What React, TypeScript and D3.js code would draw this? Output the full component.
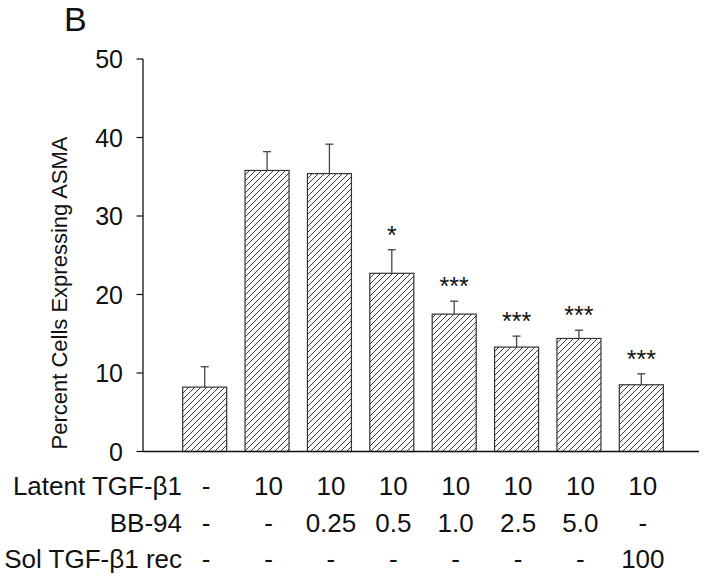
import React from 'react';
import * as d3 from 'd3';

const groups = ['g1', 'g2', 'g3', 'g4', 'g5', 'g6', 'g7', 'g8'];
const values = [8.2, 35.8, 35.4, 22.7, 17.5, 13.3, 14.4, 8.5];
const errors = [2.6, 2.4, 3.75, 3.0, 1.65, 1.4, 1.05, 1.4];
const significance = ['', '', '', '*', '***', '***', '***', '***'];
const yTicks = [0, 10, 20, 30, 40, 50];
const rowLabels = ['Latent TGF-\u03B21', 'BB-94', 'Sol TGF-\u03B21 rec'];
const latentRow = ['-', '10', '10', '10', '10', '10', '10', '10'];
const bb94Row = ['-', '-', '0.25', '0.5', '1.0', '2.5', '5.0', '-'];
const solRecRow = ['-', '-', '-', '-', '-', '-', '-', '100'];
const yLabel = 'Percent Cells Expressing ASMA';
const panelLabel = 'B';

const FONT = '"Liberation Sans", Arial, Helvetica, sans-serif';

export default function App() {
  const W = 711;
  const H = 578;
  const axisX = 143;
  const axisEnd = 699;
  const y = d3.scaleLinear().domain([0, 50]).range([451.5, 59]);
  const x = d3
    .scaleBand<string>()
    .domain(groups)
    .range([173.5, 672.5])
    .paddingInner(0.2945)
    .paddingOuter(0.147);
  const bw = x.bandwidth();
  const rows = [latentRow, bb94Row, solRecRow];
  const rowY = [495, 532, 568];

  return (
    <svg
      width={W}
      height={H}
      viewBox={`0 0 ${W} ${H}`}
      style={{ position: 'absolute', left: 0, top: 0, background: '#fff' }}
      fontFamily={FONT}
    >
      <defs>
        <pattern id="hatch" patternUnits="userSpaceOnUse" width={6} height={6}>
          <rect width={6} height={6} fill="#fff" />
          <path d="M0,6 L6,0 M-1,1 L1,-1 M5,7 L7,5" stroke="#222" strokeWidth={0.9} />
        </pattern>
      </defs>

      <text x={64} y={31} fontSize={34} fill="#111">
        {panelLabel}
      </text>

      {/* Y axis label */}
      <text
        transform={`translate(67, ${293}) rotate(-90)`}
        textAnchor="middle"
        fontSize={22}
        fill="#111"
      >
        {yLabel}
      </text>

      {/* bars */}
      {values.map((v, i) => {
        const g = groups[i];
        const x0 = x(g)!;
        const cx = x0 + bw / 2;
        const top = y(v);
        const errTop = y(v + errors[i]);
        return (
          <g key={g}>
            <rect
              x={x0}
              y={top}
              width={bw}
              height={y(0) - top}
              fill="url(#hatch)"
              stroke="#333"
              strokeWidth={1.2}
            />
            <line x1={cx} x2={cx} y1={top} y2={errTop} stroke="#444" strokeWidth={1.3} />
            <line x1={cx - 4} x2={cx + 4} y1={errTop} y2={errTop} stroke="#444" strokeWidth={1.3} />
            {significance[i] && (
              <text x={cx} y={errTop - 6} textAnchor="middle" fontSize={25} fill="#111">
                {significance[i]}
              </text>
            )}
          </g>
        );
      })}

      {/* axes */}
      <line x1={axisX} x2={axisX} y1={y(50)} y2={y(0)} stroke="#111" strokeWidth={1.3} />
      <line x1={axisX} x2={axisEnd} y1={y(0)} y2={y(0)} stroke="#111" strokeWidth={1.3} />
      {yTicks.map((t) => (
        <g key={t}>
          <line x1={axisX - 6.5} x2={axisX} y1={y(t)} y2={y(t)} stroke="#111" strokeWidth={1.2} />
          <text x={123} y={y(t)} dy="0.36em" textAnchor="end" fontSize={25} fill="#111">
            {t}
          </text>
        </g>
      ))}

      {/* condition table */}
      {rows.map((row, r) => (
        <g key={r}>
          <text x={182} y={rowY[r]} textAnchor="end" fontSize={26} fill="#111">
            {rowLabels[r]}
          </text>
          {row.map((val, i) => (
            <text
              key={i}
              x={x(groups[i])! + bw / 2 + 1.5}
              y={rowY[r]}
              textAnchor="middle"
              fontSize={26}
              fill="#111"
            >
              {val}
            </text>
          ))}
        </g>
      ))}
    </svg>
  );
}
